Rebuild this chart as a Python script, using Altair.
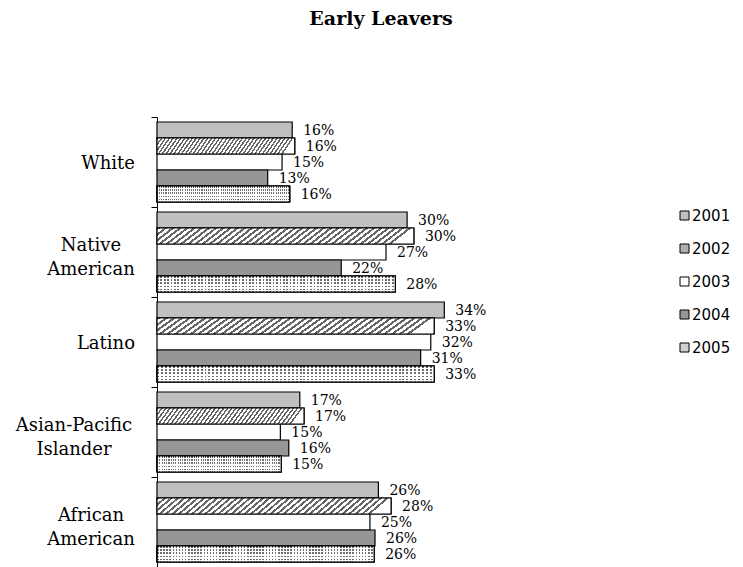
import altair as alt
import pandas as pd

categories = ["White", "Native American", "Latino", "Asian-Pacific Islander", "African American"]
years = ["2001", "2002", "2003", "2004", "2005"]
values_2001 = [16.0, 29.6, 34.0, 16.9, 26.2]
values_2002 = [16.3, 30.4, 32.8, 17.4, 27.7]
values_2003 = [14.8, 27.1, 32.4, 14.6, 25.2]
values_2004 = [13.1, 21.8, 31.2, 15.6, 25.8]
values_2005 = [15.7, 28.2, 32.8, 14.7, 25.7]
legend_colors = ["#c0c0c0", "#b0b0b0", "#ffffff", "#969696", "#d0d0d0"]

series = dict(zip(years, [values_2001, values_2002, values_2003, values_2004, values_2005]))
rows = []
for yr in years:
    for cat, v in zip(categories, series[yr]):
        rows.append({"category": cat, "year": yr, "value": v})
df = pd.DataFrame(rows)
cat_df = pd.DataFrame({"category": categories})


def stripes(n, on_color, off_color, duty, x2, y2):
    stops = []
    for i in range(n):
        a = i / n
        b = (i + duty) / n
        c = (i + 1) / n
        stops += [
            {"offset": a, "color": on_color},
            {"offset": b, "color": on_color},
            {"offset": b, "color": off_color},
            {"offset": c, "color": off_color},
        ]
    return {"gradient": "linear", "x1": 0, "y1": 0, "x2": x2, "y2": y2, "stops": stops}


hatch = stripes(36, "#666666", "#ffffff", 0.45, 1, 0.08)
dot_rows = stripes(5, "#6e6e6e", "#ffffff", 0.5, 0, 1)
dot_cols = stripes(70, "rgba(255,255,255,0)", "#ffffff", 0.5, 1, 0)

base = alt.Chart(df)

y_enc = alt.Y(
    "category:N",
    sort=categories,
    title=None,
    scale=alt.Scale(domain=categories, paddingInner=0, paddingOuter=0),
    axis=alt.Axis(
        labels=False,
        tickSize=6,
        tickBand="extent",
        tickColor="black",
        domainColor="black",
        grid=False,
    ),
)
yoff = alt.YOffset(
    "year:N", sort=years,
    scale=alt.Scale(domain=years, paddingInner=0, paddingOuter=0.3125),
)
x_enc = alt.X("value:Q", scale=alt.Scale(domain=[0, 40], nice=False), axis=None)

bars = base.mark_bar(stroke="black", strokeWidth=1.2).encode(
    x=x_enc, y=y_enc, yOffset=yoff,
    fill=alt.Fill(
        "year:N",
        scale=alt.Scale(domain=years, range=legend_colors),
        legend=alt.Legend(
            title=None, orient="none", legendX=520, legendY=91, padding=0,
            symbolType="square", symbolSize=81, symbolStrokeColor="black",
            symbolStrokeWidth=1, labelFont="DejaVu Sans", labelFontSize=15,
            labelColor="black", rowPadding=17, labelOffset=0,
        ),
    ),
)

hatch_layer = base.transform_filter("datum.year == '2002'").mark_bar(
    fill=hatch, stroke="black", strokeWidth=1.2
).encode(x=x_enc, y=y_enc, yOffset=yoff)

rows_layer = base.transform_filter("datum.year == '2005'").mark_bar(
    fill=dot_rows, stroke="black", strokeWidth=1.2
).encode(x=x_enc, y=y_enc, yOffset=yoff)

cols_layer = base.transform_filter("datum.year == '2005'").mark_bar(
    fill=dot_cols, stroke="black", strokeWidth=1.2
).encode(x=x_enc, y=y_enc, yOffset=yoff)

labels = base.transform_calculate(
    label="format(datum.value, '.0f') + '%'"
).mark_text(
    align="left", baseline="middle", dx=11, dy=1,
    font="DejaVu Serif", fontSize=14, color="black",
).encode(x=x_enc, y=y_enc, yOffset=yoff, text="label:N")

cat_font = dict(font="DejaVu Serif", fontSize=18, color="black", baseline="middle",
                lineBreak=" ", lineHeight=24)
cat_base = alt.Chart(cat_df)
cat_single = cat_base.transform_filter("indexof(datum.category, ' ') < 0").mark_text(
    align="right", dy=2, **cat_font
).encode(y=alt.Y("category:N", sort=categories), x=alt.value(-22), text="category:N")
cat_double = cat_base.transform_filter(
    "indexof(datum.category, ' ') >= 0 && datum.category != 'Asian-Pacific Islander'"
).mark_text(align="center", dy=-6, **cat_font).encode(
    y=alt.Y("category:N", sort=categories), x=alt.value(-66), text="category:N")
cat_api = cat_base.transform_filter("datum.category == 'Asian-Pacific Islander'").mark_text(
    align="center", dy=-6, **cat_font
).encode(y=alt.Y("category:N", sort=categories), x=alt.value(-83), text="category:N")

chart = alt.layer(
    bars, hatch_layer, rows_layer, cols_layer, labels, cat_single, cat_double, cat_api
).properties(
    width=338,
    height=450,
    padding={"left": 149, "top": 109, "right": 240, "bottom": 0},
    autosize=alt.AutoSizeParams(type="none"),
    title=alt.Title(
        "Early Leavers", font="DejaVu Serif", fontSize=19, fontWeight="bold",
        color="black", anchor="middle", frame="group", dx=55, offset=88,
    ),
).configure(background="white").configure_view(stroke=None)

chart.save("out.html", embed_options={"renderer": "svg", "actions": False})
